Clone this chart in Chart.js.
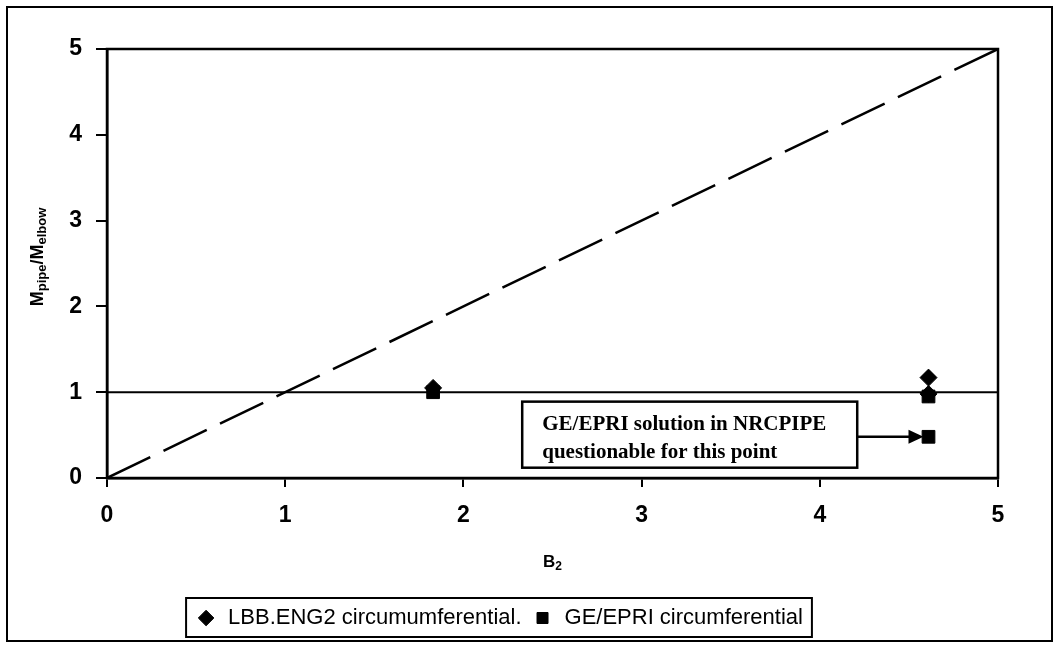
<!DOCTYPE html>
<html>
<head>
<meta charset="utf-8">
<script src="https://cdn.jsdelivr.net/npm/chart.js@4.4.1/dist/chart.umd.min.js"></script>
<style>
  html, body { margin: 0; padding: 0; background: #fff; }
  #wrap { width: 1061px; height: 648px; }
</style>
</head>
<body>
<div id="wrap"><canvas id="c" width="1061" height="648"></canvas></div>
<script>
// Measured points: B2 against Mpipe/Melbow
const lbbX = [1.83, 4.61, 4.61];
const lbbY = [1.05, 1.17, 0.98];
const geX = [1.83, 4.61, 4.61];
const geY = [1.00, 0.95, 0.48];

// Reference lines: the 1:1 diagonal and the unity ratio
const diagX = [0, 5];
const diagY = [0, 5];
const unityX = [0, 5];
const unityY = [1, 1];

const axisTicks = [0, 1, 2, 3, 4, 5];
const seriesNames = ['LBB.ENG2 circumumferential.', 'GE/EPRI circumferential'];
const noteLines = ['GE/EPRI solution in NRCPIPE', 'questionable for this point'];

// Callout box extent (data units) and the GE/EPRI point it points at
const note = { x0: 2.33, x1: 4.21, y0: 0.12, y1: 0.89, target: 2 };

const SANS = "'Liberation Sans', Arial, sans-serif";
const SERIF = "'Liberation Serif', 'Times New Roman', serif";

const toPts = (xs, ys) => xs.map((x, i) => ({ x, y: ys[i] }));

// Draws text runs (with optional subscript offset) from a baseline start point
function drawRuns(ctx, runs, x, y) {
  let cx = x;
  runs.forEach(r => {
    ctx.font = r.font;
    ctx.fillText(r.text, cx, y + (r.dy || 0));
    cx += ctx.measureText(r.text).width;
  });
  return cx - x;
}
function runsWidth(ctx, runs) {
  let w = 0;
  runs.forEach(r => { ctx.font = r.font; w += ctx.measureText(r.text).width; });
  return w;
}

const decorations = {
  id: 'decorations',
  afterDatasetsDraw(chart) {
    const { ctx, scales: { x, y } } = chart;
    const L = x.getPixelForValue(note.x0), R = x.getPixelForValue(note.x1);
    const T = y.getPixelForValue(note.y1), B = y.getPixelForValue(note.y0);
    ctx.save();
    // callout box
    ctx.fillStyle = '#fff';
    ctx.fillRect(L, T, R - L, B - T);
    ctx.strokeStyle = '#000';
    ctx.lineWidth = 2.5;
    ctx.strokeRect(L, T, R - L, B - T);
    ctx.fillStyle = '#000';
    ctx.font = 'bold 21px ' + SERIF;
    ctx.textBaseline = 'middle';
    ctx.textAlign = 'left';
    noteLines.forEach((t, i) => ctx.fillText(t, L + 20, T + 23 + 28 * i));
    // arrow to the questionable GE/EPRI point
    const px = x.getPixelForValue(geX[note.target]);
    const py = y.getPixelForValue(geY[note.target]);
    const tip = px - 5;
    ctx.lineWidth = 2.5;
    ctx.beginPath();
    ctx.moveTo(R, py);
    ctx.lineTo(tip - 12, py);
    ctx.stroke();
    ctx.beginPath();
    ctx.moveTo(tip, py);
    ctx.lineTo(tip - 15, py - 7);
    ctx.lineTo(tip - 15, py + 7);
    ctx.closePath();
    ctx.fill();
    ctx.restore();
  },
  afterDraw(chart) {
    const { ctx, chartArea: a } = chart;
    ctx.save();
    ctx.strokeStyle = '#000';
    ctx.fillStyle = '#000';
    // plot frame
    ctx.lineWidth = 2.5;
    ctx.strokeRect(a.left, a.top, a.right - a.left, a.bottom - a.top);
    // outer frame
    ctx.lineWidth = 2;
    ctx.strokeRect(7, 7, 1045, 634);
    // x-axis title B2
    ctx.textBaseline = 'alphabetic';
    ctx.textAlign = 'left';
    const xRuns = [
      { text: 'B', font: 'bold 17px ' + SANS },
      { text: '2', font: 'bold 12px ' + SANS, dy: 3 }
    ];
    const xw = runsWidth(ctx, xRuns);
    drawRuns(ctx, xRuns, (a.left + a.right) / 2 - xw / 2 + 0, 567);
    // y-axis title Mpipe/Melbow
    const yRuns = [
      { text: 'M', font: 'bold 18px ' + SANS },
      { text: 'pipe', font: 'bold 13px ' + SANS, dy: 3 },
      { text: '/M', font: 'bold 18px ' + SANS },
      { text: 'elbow', font: 'bold 13px ' + SANS, dy: 3 }
    ];
    const yw = runsWidth(ctx, yRuns);
    ctx.save();
    ctx.translate(43, 257);
    ctx.rotate(-Math.PI / 2);
    drawRuns(ctx, yRuns, -yw / 2, 0);
    ctx.restore();
    // legend frame
    const hb = chart.legend && chart.legend.legendHitBoxes;
    if (hb && hb.length) {
      const l = Math.min(...hb.map(h => h.left)) - 9;
      const r = Math.max(...hb.map(h => h.left + h.width)) + 9;
      const t = Math.min(...hb.map(h => h.top)) - 9;
      const b = Math.max(...hb.map(h => h.top + h.height)) + 8;
      ctx.lineWidth = 2;
      ctx.strokeRect(l, t, r - l, b - t);
    }
    ctx.restore();
  }
};

const tickFont = { family: SANS, size: 23, weight: 'bold' };

new Chart(document.getElementById('c'), {
  type: 'scatter',
  data: {
    datasets: [
      {
        label: seriesNames[0], data: toPts(lbbX, lbbY),
        pointStyle: 'rectRot', pointRadius: 8.5, pointHoverRadius: 8.5,
        backgroundColor: '#000', borderColor: '#000', borderWidth: 1
      },
      {
        label: seriesNames[1], data: toPts(geX, geY),
        pointStyle: 'rect', pointRadius: 9, pointHoverRadius: 9,
        backgroundColor: '#000', borderColor: '#000', borderWidth: 1
      },
      {
        label: 'diagonal', type: 'line', data: toPts(diagX, diagY),
        borderColor: '#000', borderWidth: 2.5, borderDash: [48, 14.7],
        pointRadius: 0, fill: false, showLine: true
      },
      {
        label: 'unity', type: 'line', data: toPts(unityX, unityY),
        borderColor: '#000', borderWidth: 2, pointRadius: 0, fill: false, showLine: true
      }
    ]
  },
  options: {
    responsive: false,
    animation: false,
    devicePixelRatio: 1,
    events: [],
    layout: { padding: { left: 0, right: 63, top: 49, bottom: 9 } },
    plugins: {
      tooltip: { enabled: false },
      legend: {
        position: 'bottom',
        labels: {
          usePointStyle: true, boxHeight: 11, padding: 10, color: '#000',
          font: { family: SANS, size: 22 },
          filter: item => item.datasetIndex < 2
        }
      }
    },
    scales: {
      x: {
        type: 'linear', min: 0, max: 5,
        afterBuildTicks: s => { s.ticks = axisTicks.map(v => ({ value: v })); },
        afterFit: s => { s.height = 119; },
        ticks: { font: tickFont, color: '#000', padding: 15, maxRotation: 0 },
        grid: { drawOnChartArea: false, color: '#000', lineWidth: 2, tickLength: 9 },
        border: { color: '#000', width: 2.5 }
      },
      y: {
        type: 'linear', min: 0, max: 5,
        afterBuildTicks: s => { s.ticks = axisTicks.map(v => ({ value: v })); },
        afterFit: s => { s.width = 107; },
        ticks: { font: tickFont, color: '#000', padding: 14 },
        grid: { drawOnChartArea: false, color: '#000', lineWidth: 2, tickLength: 11 },
        border: { color: '#000', width: 2.5 }
      }
    }
  },
  plugins: [decorations]
});
</script>
</body>
</html>
